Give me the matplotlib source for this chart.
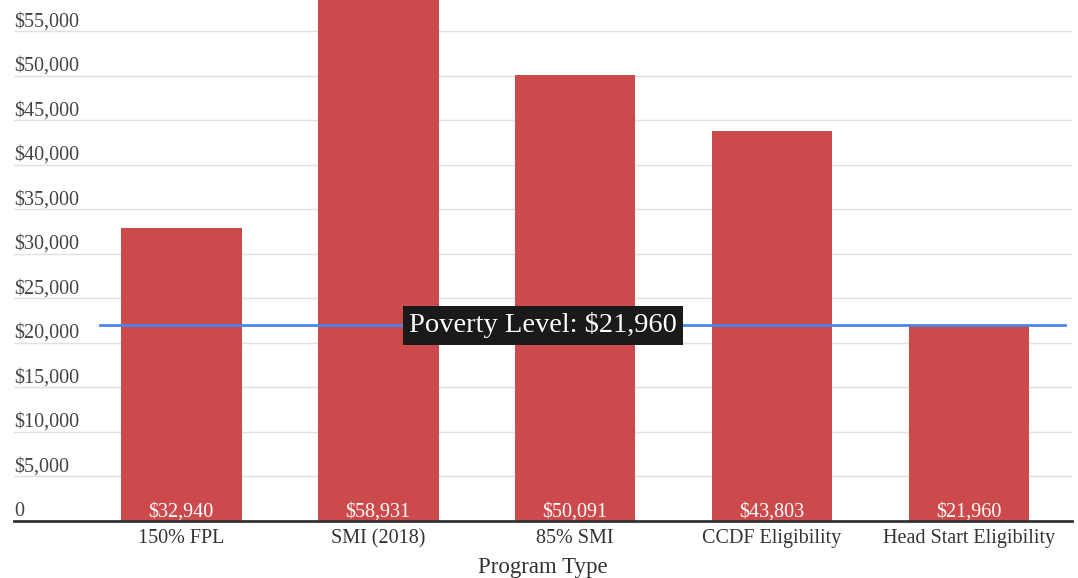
import matplotlib
matplotlib.use("Agg")
import matplotlib.pyplot as plt
import numpy as np

categories = ["150% FPL", "SMI (2018)", "85% SMI", "CCDF Eligibility", "Head Start Eligibility"]
values = [32940, 58931, 50091, 43803, 21960]
poverty_level = 21960
y_ticks = [0, 5000, 10000, 15000, 20000, 25000, 30000, 35000, 40000, 45000, 50000, 55000]

BAR = "#cd4a4c"
LINE = "#4a86e8"
SERIF = ["Liberation Serif", "DejaVu Serif"]

plt.rcParams["font.family"] = SERIF

fig = plt.figure(figsize=(10.78, 5.78), dpi=100)
ax = fig.add_axes([14 / 1078, 1 - 521 / 578, (1072 - 14) / 1078, 521 / 578])

x = np.arange(len(categories))
ax.bar(x, values, width=0.614, color=BAR, zorder=2)
ax.set_xlim(-0.848, 4.523)
ax.set_ylim(0, 58480)

# gridlines + labels sitting above them (left aligned)
for t in y_ticks:
    if t > 0:
        ax.axhline(t, color="#e0e0e0", linewidth=1, zorder=1)
    lab = "0" if t == 0 else f"${t:,}"
    ax.text(0.0, t + 550, lab, transform=ax.get_yaxis_transform(), ha="left",
            va="baseline", fontsize=14.5, color="#444444")

# bar value labels at the base
for xi, v in zip(x, values):
    ax.text(xi, 450, f"${v:,}", ha="center", va="baseline", fontsize=14.5,
            color="white", zorder=3)

# poverty line
ax.plot([-0.41, 4.49], [poverty_level, poverty_level], color=LINE, linewidth=2, zorder=4)
ax.text(0.5, poverty_level, f"Poverty Level: ${poverty_level:,}", transform=ax.get_yaxis_transform(),
        ha="center", va="center", fontsize=20.5, color="white", zorder=5,
        bbox=dict(boxstyle="square,pad=0.22", facecolor="#1a1a1a", edgecolor="none"))

ax.set_yticks([])
ax.set_xticks(x)
ax.set_xticklabels(categories, fontsize=14.5, color="#333333")
ax.tick_params(axis="x", length=0, pad=6)
ax.set_xlabel("Program Type", fontsize=16.5, color="#333333", labelpad=6)
for side in ["top", "right", "left"]:
    ax.spines[side].set_visible(False)
ax.spines["bottom"].set_color("#333333")
ax.spines["bottom"].set_linewidth(2)
ax.spines["bottom"].set_zorder(6)

fig.savefig("out.png", dpi=100)
